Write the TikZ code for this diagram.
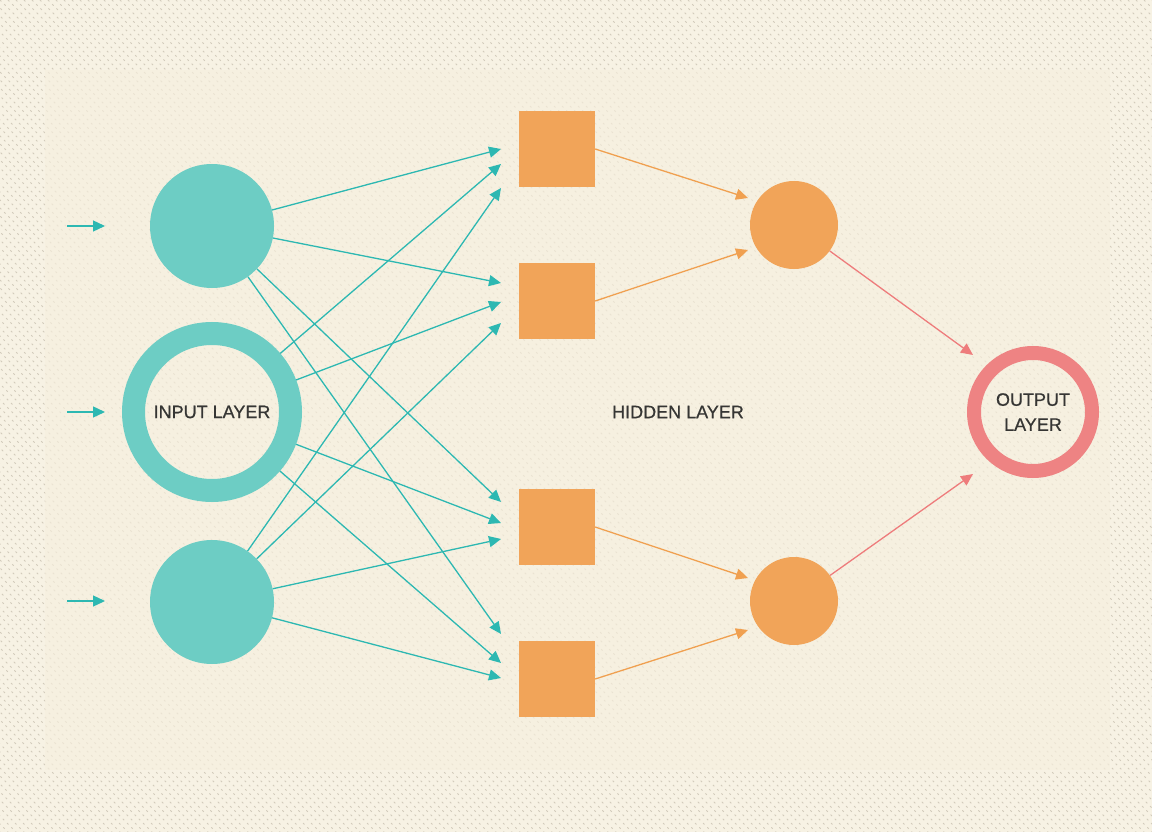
\documentclass[tikz,border=0pt]{standalone}
\usepackage{fontspec}
\setmainfont{Liberation Sans}[BoldFont={Liberation Sans},BoldFeatures={FakeBold=0.7}]
\usetikzlibrary{arrows.meta}
\definecolor{bgout}{HTML}{F7F2E4}
\definecolor{bgin}{HTML}{F6F0E0}
\definecolor{hatch}{HTML}{D2CBBB}
\definecolor{hatchin}{HTML}{EAE3D2}
\definecolor{tealfill}{HTML}{6DCDC4}
\definecolor{tealline}{HTML}{2DB8B2}
\definecolor{orangefill}{HTML}{F1A459}
\definecolor{orangeline}{HTML}{F0A050}
\definecolor{redring}{HTML}{EE8383}
\definecolor{redline}{HTML}{EE7C7C}
\definecolor{txt}{HTML}{363634}
\tikzset{
  tealdisc/.style={circle,fill=tealfill,draw=none,minimum size=124pt,inner sep=0pt},
  tealring/.style={circle,draw=tealfill,line width=23pt,minimum size=157pt,inner sep=0pt},
  sqbox/.style={rectangle,fill=orangefill,draw=none,minimum size=76pt,inner sep=0pt},
  orangedisc/.style={circle,fill=orangefill,draw=none,minimum size=88pt,inner sep=0pt},
  redringst/.style={circle,draw=redring,line width=14pt,minimum size=118pt,inner sep=0pt},
  label/.style={text=txt,font=\fontsize{18}{25}\selectfont\bfseries,align=center},
  tealarrow/.style={draw=tealline,line width=1.3pt,-{Triangle[length=12pt,width=11pt]}},
  orangearrow/.style={draw=orangeline,line width=1.3pt,-{Triangle[length=12pt,width=11pt]}},
  redarrow/.style={draw=redline,line width=1.3pt,-{Triangle[length=12pt,width=11pt]}},
}
\begin{document}
\begin{tikzpicture}[x=1pt,y=-1pt]
\useasboundingbox (0,0) rectangle (1152,832);
% background
\fill[bgout] (0,0) rectangle (1152,832);
\begin{scope}
\clip (0,0) rectangle (1152,832);
\foreach \i in {-840,-832,...,1160}
  \draw[hatch,line width=0.9pt,dash pattern=on 2pt off 4pt] (\i,0) -- ++(832,832);
\end{scope}
\fill[bgin] (45,70) rectangle (1110,770);
\begin{scope}
\clip (45,70) rectangle (1110,770);
\foreach \i in {-840,-832,...,1160}
  \draw[hatchin,line width=0.8pt,dash pattern=on 2pt off 4pt] (\i,0) -- ++(832,832);
\end{scope}
% input layer
\node[tealdisc] (in1) at (212,226) {};
\node[tealring,label] (in2) at (212,412) {INPUT LAYER};
\node[tealdisc] (in3) at (212,602) {};
% hidden layer
\node[sqbox] (h1) at (557,149) {};
\node[sqbox] (h2) at (557,301) {};
\node[sqbox] (h3) at (557,527) {};
\node[sqbox] (h4) at (557,679) {};
\node[orangedisc] (c1) at (794,225) {};
\node[orangedisc] (c2) at (794,601) {};
\node[label] (hl) at (678,412) {HIDDEN LAYER};
% output layer
\node[redringst,label] (out) at (1033,412) {OUTPUT\\LAYER};
% input arrows
\coordinate (s1) at (67,226); \coordinate (e1) at (105,226);
\coordinate (s2) at (67,412); \coordinate (e2) at (105,412);
\coordinate (s3) at (67,601); \coordinate (e3) at (105,601);
\draw[tealarrow] (s1) -- (e1);
\draw[tealarrow] (s2) -- (e2);
\draw[tealarrow] (s3) -- (e3);
% tips at hidden squares
\coordinate (a1) at (501,149); \coordinate (a2) at (501,164); \coordinate (a3) at (501,188);
\coordinate (b1) at (501,283); \coordinate (b2) at (501,302); \coordinate (b3) at (501,323);
\coordinate (d1) at (501,502); \coordinate (d2) at (501,523); \coordinate (d3) at (501,539);
\coordinate (f1) at (501,634); \coordinate (f2) at (501,663); \coordinate (f3) at (501,678);
\draw[tealarrow] (in1) -- (a1);
\draw[tealarrow] (in1) -- (b1);
\draw[tealarrow] (in1) -- (d1);
\draw[tealarrow] (in1) -- (f1);
\draw[tealarrow] (in2) -- (a2);
\draw[tealarrow] (in2) -- (b2);
\draw[tealarrow] (in2) -- (d2);
\draw[tealarrow] (in2) -- (f2);
\draw[tealarrow] (in3) -- (a3);
\draw[tealarrow] (in3) -- (b3);
\draw[tealarrow] (in3) -- (d3);
\draw[tealarrow] (in3) -- (f3);
% hidden to hidden circles
\coordinate (g1) at (748,198); \coordinate (g2) at (748,250);
\coordinate (g3) at (748,578); \coordinate (g4) at (748,630);
\draw[orangearrow] (h1.east) -- (g1);
\draw[orangearrow] (h2.east) -- (g2);
\draw[orangearrow] (h3.east) -- (g3);
\draw[orangearrow] (h4.east) -- (g4);
% to output
\coordinate (o1) at (973,355); \coordinate (o2) at (973,474);
\draw[redarrow] (c1) -- (o1);
\draw[redarrow] (c2) -- (o2);
\end{tikzpicture}
\end{document}
